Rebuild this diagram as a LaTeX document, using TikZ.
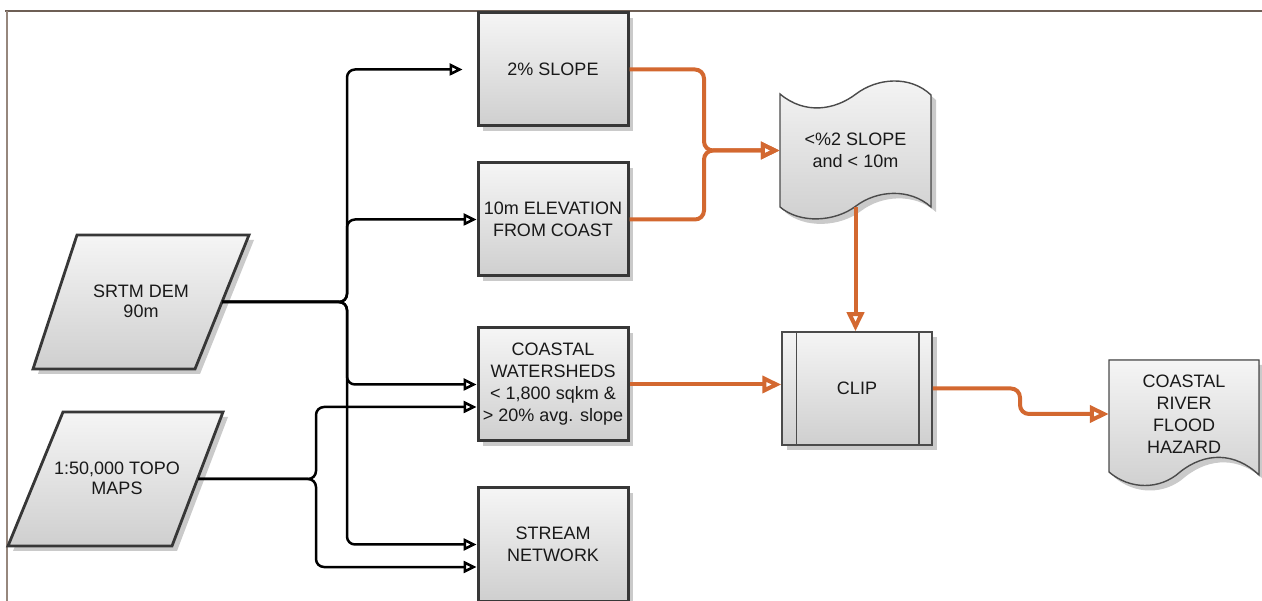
\documentclass[tikz,border=0pt]{standalone}
\usepackage{fontspec}
\setmainfont{Liberation Sans}
\usetikzlibrary{arrows.meta,shadows}
\definecolor{framebrown}{RGB}{110,95,85}
\definecolor{frameside}{RGB}{150,135,125}
\definecolor{boxline}{RGB}{55,55,55}
\definecolor{docline}{RGB}{75,75,75}
\definecolor{fillTop}{RGB}{245,245,245}
\definecolor{fillBot}{RGB}{207,207,207}
\definecolor{shade}{RGB}{202,202,202}
\definecolor{flow}{RGB}{211,104,48}
\begin{document}
\begin{tikzpicture}[x=1pt,y=-1pt,
  every node/.style={font=\fontsize{18}{22}\selectfont, align=center, text=black!90},
  gradfill/.style={top color=fillTop, bottom color=fillBot},
  shadowed/.style={drop shadow={shadow xshift=5pt,shadow yshift=-5pt,fill=shade,opacity=1}},
  procbox/.style={rectangle, draw=boxline, line width=3pt, gradfill, shadowed,
    minimum width=150pt, minimum height=113pt, inner sep=2pt},
  inshape/.style={draw=boxline, line width=2.8pt, gradfill, shadowed},
  intext/.style={rectangle, inner sep=0pt, font=\fontsize{18}{20}\selectfont},
  docbody/.style={rectangle, inner sep=0pt},
  docshape/.style={draw=docline, line width=1.4pt, gradfill, shadowed},
  feed/.style={draw=black, line width=2.5pt, rounded corners=8pt,
    -{Triangle[open,length=13pt,width=12pt]}},
  flowline/.style={draw=flow, line width=4pt, rounded corners=9pt,
    -{Triangle[open,length=19pt,width=17pt]}},
]
\useasboundingbox (0,0) rectangle (1262,601);

% page frame
\draw[framebrown, line width=2.2pt] (5,11) -- (1262,11);
\draw[frameside, line width=1.6pt] (7,11) -- (7,601);

% input data (parallelograms)
\filldraw[inshape] (77,235) -- (249,235) -- (195,369) -- (33,369) -- cycle;
\node[intext] (srtm) at (141,301) {SRTM DEM\\90m};
\coordinate (srtmR) at (222,302);
\filldraw[inshape] (63,412) -- (223,412) -- (172,546) -- (8,546) -- cycle;
\node[intext] (topo) at (117,478) {1:50,000 TOPO\\MAPS};
\coordinate (topoR) at (198,479);

% processing steps
\node[procbox] (slope) at (553,69.5) {2\% SLOPE};
\node[procbox] (elev) at (553,219.5) {10m ELEVATION\\FROM COAST};
\node[procbox] (shed) at (553,384.5) {COASTAL\\WATERSHEDS\\< 1,800 sqkm \&\\> 20\% avg. slope};
\node[procbox] (stream) at (553,544.5) {STREAM\\NETWORK};

% combined mask (wavy document)
\filldraw[docshape] (780,94) .. controls (805,115) and (835,110) .. (856,94)
  .. controls (877,78) and (910,75) .. (931,95) -- (931,207)
  .. controls (910,188) and (877,190) .. (856,206)
  .. controls (835,222) and (800,224) .. (780,207) -- cycle;
\node[docbody, minimum width=151pt, minimum height=113pt] (merge) at (855.5,150.5)
  {<\%2 SLOPE\\and < 10m};

% clip (predefined process)
\node[procbox, draw=docline, line width=1.5pt] (clip) at (857,388.5) {CLIP};
\draw[docline, line width=1.5pt] ([xshift=15pt]clip.north west) -- ([xshift=15pt]clip.south west);
\draw[docline, line width=1.5pt] ([xshift=-14pt]clip.north east) -- ([xshift=-14pt]clip.south east);

% result document
\filldraw[docshape] (1109,360) -- (1259,360) -- (1259,475)
  .. controls (1235,452) and (1205,452) .. (1180,472)
  .. controls (1160,490) and (1130,490) .. (1109,472) -- cycle;
\node[docbody, minimum width=150pt, minimum height=112pt] (hazard) at (1184,414)
  {COASTAL\\RIVER\\FLOOD\\HAZARD};

% bus lines
\coordinate (demBus) at (347,0);
\coordinate (topoBus) at (316,0);
\coordinate (shedB) at ([yshift=-22.5pt]shed.west);
\coordinate (streamB) at ([yshift=-22.5pt]stream.west);

\draw[feed] (srtmR) -- (srtmR -| demBus) -- (demBus |- slope.west) -- ([xshift=-14pt]slope.west);
\draw[feed] (srtmR) -- (srtmR -| demBus) -- (demBus |- elev.west) -- (elev.west);
\draw[feed] (srtmR) -- (srtmR -| demBus) -- (demBus |- shed.west) -- (shed.west);
\draw[feed] (srtmR) -- (srtmR -| demBus) -- (demBus |- stream.west) -- (stream.west);
\draw[feed] (topoR) -- (topoR -| topoBus) -- (topoBus |- shedB) -- (shedB);
\draw[feed] (topoR) -- (topoR -| topoBus) -- (topoBus |- streamB) -- (streamB);

% analysis flow
\coordinate (join) at (704,0);
\coordinate (kink) at (1020,0);
\draw[flowline] (slope.east) -- (slope.east -| join) -- (join |- merge.west) -- (merge.west);
\draw[flowline] (elev.east) -- (elev.east -| join) -- (join |- merge.west) -- (merge.west);
\draw[flowline] (merge.south) -- (merge.south |- clip.north);
\draw[flowline] (shed.east) -- (shed.east -| clip.west);
\draw[flowline] (clip.east) -- (clip.east -| kink) -- (kink |- hazard.west) -- (hazard.west);
\end{tikzpicture}
\end{document}
